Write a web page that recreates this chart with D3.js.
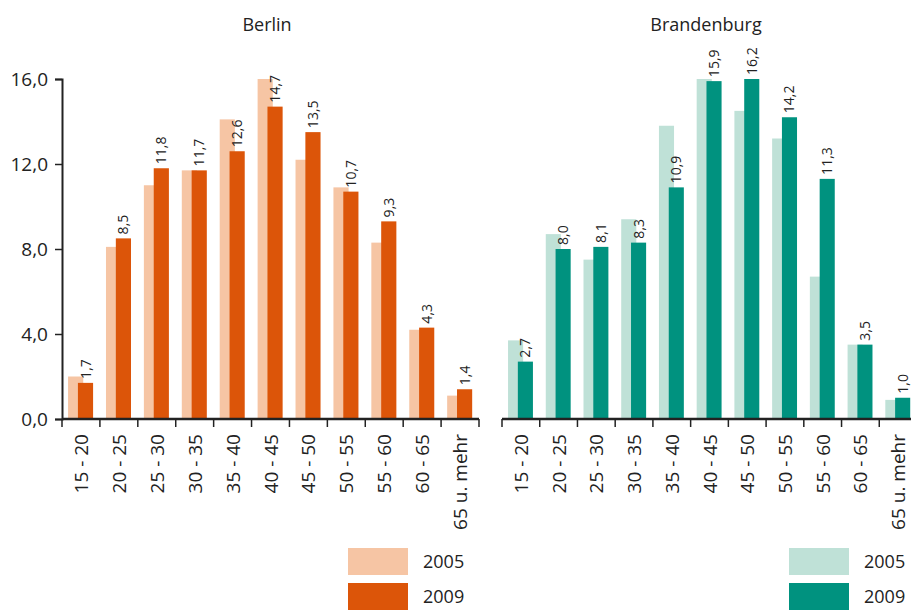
<!DOCTYPE html>
<html>
<head>
<meta charset="utf-8">
<script src="https://cdn.jsdelivr.net/npm/d3@7"></script>
<style>
  body { margin: 0; background: #fff; }
  text { font-family: "Open Sans", sans-serif; fill: #222; }
</style>
</head>
<body>
<div id="chart"></div>
<script>
const WIDTH = 911;
const HEIGHT = 610;

const ageGroups = ['15 - 20', '20 - 25', '25 - 30', '30 - 35', '35 - 40', '40 - 45',
  '45 - 50', '50 - 55', '55 - 60', '60 - 65', '65 u. mehr'];
const years = ['2005', '2009'];
const yTicks = [0, 4, 8, 12, 16];

const berlin2005 = [2.0, 8.1, 11.0, 11.7, 14.1, 16.0, 12.2, 10.9, 8.3, 4.2, 1.1];
const berlin2009 = [1.7, 8.5, 11.8, 11.7, 12.6, 14.7, 13.5, 10.7, 9.3, 4.3, 1.4];
const brb2005 = [3.7, 8.7, 7.5, 9.4, 13.8, 16.0, 14.5, 13.2, 6.7, 3.5, 0.9];
const brb2009 = [2.7, 8.0, 8.1, 8.3, 10.9, 15.9, 16.2, 14.2, 11.3, 3.5, 1.0];

const berlinColors = ['#f6c5a4', '#dc5509'];
const brbColors = ['#bfe1d7', '#00927f'];

const comma = v => d3.format('.1f')(v).replace('.', ',');

const svg = d3.select('#chart').append('svg')
  .attr('width', WIDTH)
  .attr('height', HEIGHT);

const y = d3.scaleLinear().domain([0, 16]).range([419, 79]).clamp(true);

function drawPanel(opts) {
  const g = svg.append('g');
  const x = d3.scaleBand().domain(ageGroups).range([opts.x0, opts.x1]);
  const bw = x.bandwidth();

  g.append('text')
    .attr('x', opts.titleX)
    .attr('y', 31)
    .attr('text-anchor', 'middle')
    .style('font-size', '18px')
    .text(opts.title);

  // bars, 2005 first so 2009 overlaps it
  [opts.v2005, opts.v2009].forEach((vals, i) => {
    g.append('g').selectAll('rect')
      .data(vals)
      .join('rect')
      .attr('x', (d, j) => x(ageGroups[j]) + bw * (i === 0 ? 0.16 : 0.42))
      .attr('width', bw * 0.4)
      .attr('y', d => y(d))
      .attr('height', d => y(0) - y(d))
      .attr('fill', opts.colors[i]);
  });

  // value labels on 2009 bars
  g.append('g').selectAll('text')
    .data(opts.v2009)
    .join('text')
    .attr('transform', (d, j) =>
      `translate(${x(ageGroups[j]) + bw * 0.62 + 5}, ${y(d) - 4}) rotate(-90)`)
    .style('font-size', '14px')
    .text(d => comma(d));

  // x axis
  const axis = g.append('g');
  axis.append('line')
    .attr('x1', opts.x0).attr('x2', opts.x1)
    .attr('y1', y(0)).attr('y2', y(0))
    .attr('stroke', '#222').attr('stroke-width', 2.5);
  const edges = ageGroups.map(c => x(c)).concat([opts.x1]);
  axis.selectAll('line.tick')
    .data(edges)
    .join('line')
    .attr('class', 'tick')
    .attr('x1', d => d).attr('x2', d => d)
    .attr('y1', y(0)).attr('y2', y(0) + 8)
    .attr('stroke', '#222').attr('stroke-width', 1.5);
  axis.selectAll('text')
    .data(ageGroups)
    .join('text')
    .attr('transform', d => `translate(${x(d) + bw / 2 + 7}, 434) rotate(-90)`)
    .attr('text-anchor', 'end')
    .style('font-size', '19px')
    .text(d => d);

  // legend
  const leg = g.append('g');
  years.forEach((yr, i) => {
    leg.append('rect')
      .attr('x', opts.legendX)
      .attr('y', 548 + i * 35)
      .attr('width', 60)
      .attr('height', 27)
      .attr('fill', opts.colors[i]);
    leg.append('text')
      .attr('x', opts.legendX + 75)
      .attr('y', 568 + i * 35)
      .style('font-size', '18px')
      .text(yr);
  });

  return g;
}

drawPanel({
  title: 'Berlin', titleX: 267, x0: 62, x1: 479,
  v2005: berlin2005, v2009: berlin2009, colors: berlinColors, legendX: 348
});
drawPanel({
  title: 'Brandenburg', titleX: 706, x0: 502, x1: 917,
  v2005: brb2005, v2009: brb2009, colors: brbColors, legendX: 789
});

// y axis (Berlin panel only)
const yAxis = svg.append('g').attr('transform', 'translate(62,0)')
  .call(d3.axisLeft(y).tickValues(yTicks).tickSize(7).tickFormat(comma));
yAxis.select('.domain').attr('stroke', '#222').attr('stroke-width', 2);
yAxis.selectAll('.tick line').attr('stroke', '#222').attr('stroke-width', 1.5);
yAxis.selectAll('.tick text')
  .attr('x', -14)
  .style('font-size', '19px')
  .style('font-family', '"Open Sans", sans-serif')
  .attr('fill', '#222');
</script>
</body>
</html>
